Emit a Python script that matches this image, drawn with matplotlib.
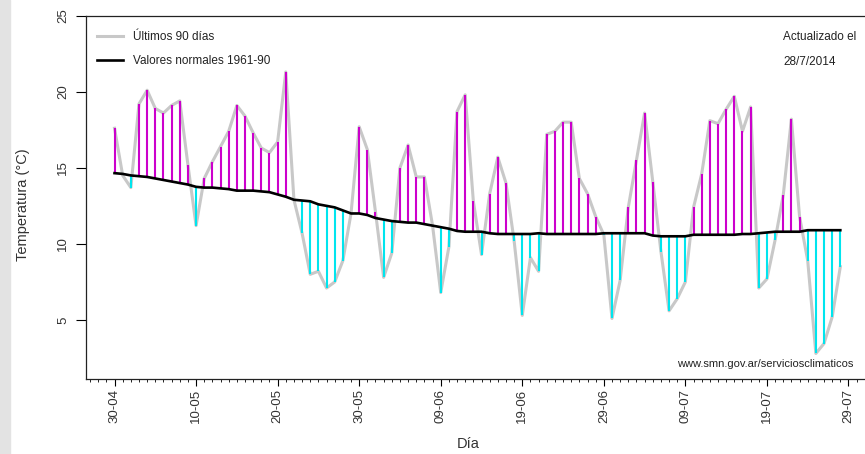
# Temperatura media diaria de los últimos 90 días vs. valores normales 1961-90

import matplotlib.pyplot as plt
import numpy as np
from matplotlib.lines import Line2D
from matplotlib.patches import Rectangle

plt.rcParams['font.family'] = ['Liberation Sans', 'DejaVu Sans']

# temperatura media diaria (°C), 30-04 al 28-07
temp = [17.6, 14.5, 13.7, 19.2, 20.1, 18.9, 18.6, 19.1, 19.4, 15.2,
        11.2, 14.3, 15.4, 16.4, 17.4, 19.1, 18.4, 17.3, 16.3, 16.0,
        16.7, 21.3, 12.9, 10.7, 8.0, 8.2, 7.1, 7.5, 8.9, 12.0,
        17.7, 16.2, 12.1, 7.8, 9.4, 15.0, 16.5, 14.4, 14.4, 11.2,
        6.8, 9.8, 18.7, 19.8, 12.8, 9.3, 13.3, 15.7, 14.0, 10.2,
        5.3, 9.1, 8.2, 17.2, 17.4, 18.0, 18.0, 14.3, 13.3, 11.8,
        10.6, 5.1, 7.6, 12.4, 15.5, 18.6, 14.1, 9.5, 5.6, 6.4,
        7.5, 12.4, 14.6, 18.1, 17.9, 18.85, 19.7, 17.4, 19.0, 7.1,
        7.7, 10.25, 13.2, 18.2, 11.8, 8.9, 2.8, 3.45, 5.2, 8.5]

# valores normales 1961-90 para los mismos días
normal = [14.65, 14.6, 14.5, 14.45, 14.4, 14.3, 14.2, 14.1, 14.0, 13.9,
          13.75, 13.7, 13.7, 13.65, 13.6, 13.5, 13.5, 13.5, 13.45, 13.4,
          13.25, 13.1, 12.9, 12.85, 12.8, 12.6, 12.5, 12.4, 12.2, 12.0,
          12.0, 11.9, 11.7, 11.6, 11.5, 11.45, 11.4, 11.4, 11.3, 11.2,
          11.1, 11.0, 10.85, 10.8, 10.8, 10.8, 10.7, 10.65, 10.65, 10.65,
          10.65, 10.65, 10.7, 10.65, 10.65, 10.65, 10.65, 10.65, 10.65, 10.65,
          10.7, 10.7, 10.7, 10.7, 10.7, 10.7, 10.55, 10.5, 10.5, 10.5,
          10.5, 10.6, 10.6, 10.6, 10.6, 10.6, 10.6, 10.65, 10.65, 10.7,
          10.75, 10.8, 10.8, 10.8, 10.8, 10.9, 10.9, 10.9, 10.9, 10.9]

tick_days = [0, 10, 20, 30, 40, 50, 60, 70, 80, 90]
tick_labels = ['30-04', '10-05', '20-05', '30-05', '09-06',
               '19-06', '29-06', '09-07', '19-07', '29-07']

dias = np.arange(len(temp))
temp = np.array(temp)
normal = np.array(normal)

fig = plt.figure(figsize=(8.65, 4.54), dpi=100)
fig.patches.append(Rectangle((0, 0), 10 / 865, 1, transform=fig.transFigure,
                             color='#e3e3e3', zorder=0))
ax = fig.add_axes([0.0994, 0.1645, 0.9145, 0.801])

ax.plot(dias, temp, color='#c8c8c8', lw=2.2, zorder=2)
arriba = temp >= normal
ax.vlines(dias[arriba], normal[arriba], temp[arriba], color='#cc00cc', lw=1.5, zorder=3)
ax.vlines(dias[~arriba], normal[~arriba], temp[~arriba], color='#00e5ee', lw=1.5, zorder=3)
ax.plot(dias, normal, color='black', lw=1.9, zorder=4)

ax.set_xlim(-3.5, 93.5)
ax.set_ylim(1.1, 25)
ax.set_yticks([5, 10, 15, 20, 25])
ax.set_xticks(tick_days)
ax.set_xticklabels(tick_labels, rotation=90, fontsize=9.5, color='#333333')
ax.set_xticks(np.arange(-3, 94), minor=True)
for lab in ax.get_yticklabels():
    lab.set_rotation(90)
    lab.set_va('center')
ax.tick_params(axis='y', length=7, width=0.8, labelsize=9.5, labelcolor='#333333', pad=5)
ax.tick_params(axis='x', which='major', length=5, width=0.8, pad=2)
ax.tick_params(axis='x', which='minor', length=2.5, width=0.6)
for s in ax.spines.values():
    s.set_linewidth(0.9)
    s.set_color('#222222')

handles = [Line2D([], [], color='#c8c8c8', lw=2.2),
           Line2D([], [], color='black', lw=1.9)]
ax.legend(handles, ['Últimos 90 días', 'Valores normales 1961-90'],
          loc='upper left', bbox_to_anchor=(0.014, 0.958), frameon=False,
          borderaxespad=0, borderpad=0, handlelength=2.2, handletextpad=0.85,
          labelspacing=1.05, fontsize=8.5, labelcolor='#222222')

fig.text(783 / 865, 1 - 37 / 454, 'Actualizado el', fontsize=8.5, color='#222222', va='center')
fig.text(783 / 865, 1 - 62 / 454, '28/7/2014', fontsize=8.5, color='#222222', va='center')
fig.text(677 / 865, 1 - 364 / 454, 'www.smn.gov.ar/serviciosclimaticos', fontsize=8,
         color='#222222', va='center')

fig.text(23 / 865, 1 - 205 / 454, 'Temperatura (°C)', rotation=90, fontsize=10.5,
         color='#333333', ha='center', va='center')
fig.text(468 / 865, 1 - 444 / 454, 'Día', fontsize=10.5, color='#333333',
         ha='center', va='center')

fig.savefig('out.png', dpi=100)
